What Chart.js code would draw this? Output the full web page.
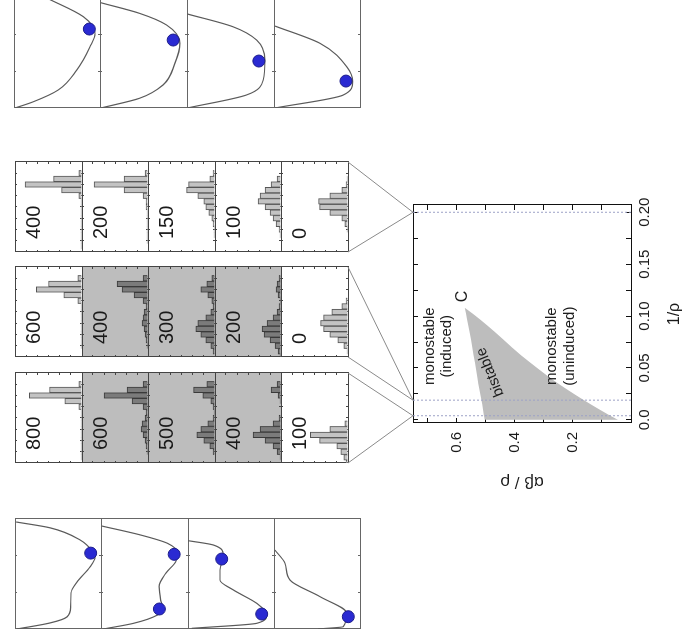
<!DOCTYPE html>
<html>
<head>
<meta charset="utf-8">
<script src="https://cdn.jsdelivr.net/npm/chart.js@4.4.1/dist/chart.umd.min.js"></script>
<style>
  html, body { margin: 0; padding: 0; background: #fff; overflow: hidden; }
  /* the figure is laid out upright, then turned a quarter to the left */
  #fig { position: absolute; left: 0; top: 0; width: 638px; height: 686px; overflow: hidden;
         transform-origin: 0 0; transform: translateY(638px) rotate(-90deg); }
  #fig canvas { position: absolute; }
</style>
</head>
<body>
<div id="fig"></div>
<script>
const FONT = '"Liberation Sans", Arial, Helvetica, sans-serif';

// ---- phase diagram ----
const bistX     = [0, 0.01, 0.02, 0.03, 0.04, 0.055, 0.07, 0.085, 0.097, 0.108];
const bistUpper = [0.503, 0.509, 0.515, 0.522, 0.528, 0.537, 0.546, 0.556, 0.564, 0.572];
const bistLower = [0.045, 0.108, 0.168, 0.224, 0.276, 0.346, 0.410, 0.470, 0.520, 0.572];
const sampleRhoInv = [0.004, 0.019, 0.2];
const rhoInvRange = [-0.003, 0.207];
const ratioRange = [0, 0.75];

// ---- histograms: one column per sampled 1/rho, five rows each ----
const histBins = [0, 1, 2, 3, 4, 5, 6, 7, 8, 9, 10, 11, 12, 13, 14, 15];
const noiseC = [800, 600, 500, 400, 100];
const noiseB = [600, 400, 300, 200, 0];
const noiseA = [400, 200, 150, 100, 0];
const bistableC = [false, true, true, true, false];
const bistableB = [false, true, true, true, false];
const bistableA = [false, false, false, false, false];
const countsC = [
  [0, 1, 1, 1, 1, 1, 1, 1, 1, 1, 3, 17, 52, 32, 3, 0],
  [0, 0, 1, 2, 3, 5, 7, 6, 3, 2, 5, 16, 44, 21, 5, 0],
  [0, 0, 2, 5, 11, 18, 14, 7, 2, 1, 2, 4, 12, 21, 8, 0],
  [0, 1, 4, 8, 16, 28, 21, 8, 2, 0, 0, 1, 3, 10, 4, 0],
  [2, 4, 7, 11, 28, 37, 18, 3, 0, 0, 0, 0, 0, 0, 0, 0]
];
const countsB = [
  [0, 0, 1, 1, 1, 1, 1, 1, 1, 1, 4, 18, 45, 33, 4, 0],
  [0, 0, 1, 2, 3, 4, 6, 5, 4, 2, 5, 14, 26, 31, 5, 0],
  [0, 2, 4, 9, 14, 19, 17, 9, 4, 2, 3, 7, 14, 8, 3, 0],
  [1, 3, 6, 11, 17, 19, 14, 8, 4, 2, 1, 3, 5, 4, 2, 0],
  [0, 1, 4, 10, 18, 24, 27, 24, 16, 6, 2, 0, 0, 0, 0, 0]
];
const countsA = [
  [0, 1, 1, 1, 1, 1, 1, 1, 1, 1, 3, 20, 56, 28, 3, 0],
  [0, 0, 1, 1, 1, 1, 1, 1, 2, 2, 5, 24, 54, 24, 3, 0],
  [0, 0, 0, 1, 1, 2, 3, 6, 9, 11, 17, 28, 26, 5, 2, 0],
  [0, 0, 0, 1, 2, 5, 8, 11, 16, 23, 21, 16, 10, 4, 0, 0],
  [0, 0, 0, 0, 1, 3, 6, 18, 28, 29, 18, 6, 2, 1, 0, 0]
];

// ---- landscape curves (bistable column, then monostable column) ----
const bistCurveU = [
  [0, 0.055, 0.11, 0.2, 0.327, 0.427, 0.564, 0.655, 0.7, 0.81, 0.92, 0.973],
  [0, 0.052, 0.127, 0.203, 0.264, 0.385, 0.506, 0.612, 0.688, 0.779, 0.855, 0.936],
  [0.006, 0.052, 0.127, 0.233, 0.355, 0.445, 0.536, 0.673, 0.764, 0.803],
  [0, 0.021, 0.143, 0.294, 0.445, 0.597, 0.718]
];
const bistCurveV = [
  [0.977, 0.593, 0.395, 0.353, 0.349, 0.28, 0.128, 0.07, 0.093, 0.244, 0.593, 0.988],
  [0.973, 0.624, 0.352, 0.294, 0.314, 0.333, 0.256, 0.14, 0.12, 0.236, 0.547, 0.99],
  [0.957, 0.2, 0.085, 0.2, 0.473, 0.628, 0.628, 0.59, 0.706, 0.998],
  [0.488, 0.194, 0.155, 0.465, 0.814, 0.872, 0.99]
];
const bistDotU = [[0.69], [0.182, 0.679], [0.136, 0.636], [0.112]];
const bistDotV = [[0.12], [0.329, 0.159], [0.143, 0.608], [0.136]];

const monoCurveU = [
  [0, 0.057, 0.164, 0.345, 0.557, 0.679, 0.83, 1.0],
  [0, 0.088, 0.209, 0.406, 0.588, 0.755, 0.861, 0.957],
  [0, 0.118, 0.255, 0.436, 0.618, 0.739, 0.855],
  [0, 0.118, 0.239, 0.375, 0.588, 0.745]
];
const monoCurveV = [
  [0.988, 0.775, 0.485, 0.271, 0.116, 0.058, 0.194, 0.62],
  [0.99, 0.547, 0.276, 0.14, 0.081, 0.236, 0.547, 0.99],
  [0.997, 0.318, 0.124, 0.105, 0.2, 0.473, 0.997],
  [0.988, 0.194, 0.085, 0.155, 0.465, 0.988]
];
const monoDotU = [[0.718], [0.618], [0.427], [0.245]];
const monoDotV = [[0.124], [0.159], [0.174], [0.163]];

// ---- layout (upright figure coordinates) ----
const fig = document.getElementById('fig');
const HIST_LEFT = [175, 281, 386];
const HIST_W = 90;
const HIST_EDGES = [15, 82, 148, 215, 281, 348];
const CURVE_W = 110;
const BIST_LEFT = 9, BIST_EDGES = [15, 101, 188, 274, 360];
const MONO_LEFT = 530, MONO_EDGES = [14, 100, 187, 274, 360];
const MAIN_BOX = { left: 140, top: 340, width: 360, height: 346 };

const LIGHT_BAR = '#c3c3c3', DARK_BAR = '#7b7b7b', SHADE = '#bdbdbd';

function makeCanvas(x, y, w, h) {
  const c = document.createElement('canvas');
  c.width = w; c.height = h;
  c.style.left = x + 'px'; c.style.top = y + 'px';
  c.style.width = w + 'px'; c.style.height = h + 'px';
  fig.appendChild(c);
  return c;
}

const baseOptions = {
  responsive: false,
  animation: false,
  devicePixelRatio: 1,
  events: [],
  layout: { autoPadding: false, padding: { left: 0, top: 0, right: 1, bottom: 1 } }
};

function frameAxis(position, min, max, step, tick, color) {
  return {
    type: 'linear', position, min, max, offset: false,
    ticks: { display: false, stepSize: step || undefined, includeBounds: false },
    grid: { drawOnChartArea: false, drawTicks: !!step, tickLength: -tick, color, offset: false },
    border: { color, width: 1 },
    afterFit(s) { if (s.isHorizontal()) s.height = 0; else s.width = 0; }
  };
}

const panelDecor = {
  id: 'panelDecor',
  beforeDraw(chart, args, opts) {
    if (!opts.bg) return;
    const a = chart.chartArea, ctx = chart.ctx;
    ctx.save();
    ctx.fillStyle = opts.bg;
    ctx.fillRect(a.left, a.top, a.right - a.left, a.bottom - a.top);
    ctx.restore();
  },
  afterDraw(chart, args, opts) {
    if (opts.text === undefined || opts.text === null) return;
    const a = chart.chartArea, ctx = chart.ctx;
    ctx.save();
    ctx.font = '20px ' + FONT;
    ctx.fillStyle = '#1a1a1a';
    ctx.textAlign = 'left';
    ctx.textBaseline = 'middle';
    ctx.fillText(String(opts.text), a.left + 13, a.top + 19);
    ctx.restore();
  }
};

// ---- histogram panels ----
const histGroups = [
  { noise: noiseC, bist: bistableC, counts: countsC },
  { noise: noiseB, bist: bistableB, counts: countsB },
  { noise: noiseA, bist: bistableA, counts: countsA }
];

histGroups.forEach((g, gi) => {
  g.counts.forEach((counts, pi) => {
    const top = HIST_EDGES[pi];
    const h = HIST_EDGES[pi + 1] - top;
    const dark = g.bist[pi];
    const cv = makeCanvas(HIST_LEFT[gi], top, HIST_W + 1, h + 1);
    new Chart(cv, {
      type: 'bar',
      data: {
        datasets: [{
          data: counts.map((c, k) => ({ x: histBins[k], y: c })),
          backgroundColor: dark ? DARK_BAR : LIGHT_BAR,
          borderColor: dark ? '#3a3a3a' : '#555',
          borderWidth: 1,
          categoryPercentage: 1,
          barPercentage: 1
        }]
      },
      options: Object.assign({}, baseOptions, {
        plugins: {
          legend: { display: false }, tooltip: { enabled: false },
          panelDecor: { text: g.noise[pi], bg: dark ? SHADE : null }
        },
        scales: {
          x: frameAxis('bottom', 0, 16, 2, 2, '#444'),
          x2: frameAxis('top', 0, 16, 2, 2, '#444'),
          y: frameAxis('left', 0, 66, 11, 2, '#444'),
          y2: frameAxis('right', 0, 66, 11, 2, '#444')
        }
      }),
      plugins: [panelDecor]
    });
  });
});

// ---- landscape panels ----
function curvePanel(left, top, h, us, vs, du, dv) {
  const cv = makeCanvas(left, top, CURVE_W + 1, h + 1);
  new Chart(cv, {
    type: 'line',
    data: {
      datasets: [
        {
          data: us.map((u, i) => ({ x: u, y: vs[i] })),
          borderColor: '#5a5a5a', borderWidth: 1.2, pointRadius: 0,
          cubicInterpolationMode: 'monotone', fill: false, order: 2
        },
        {
          data: du.map((u, i) => ({ x: u, y: dv[i] })),
          showLine: false, pointRadius: 6,
          pointBackgroundColor: '#2a2ad2', pointBorderColor: '#1c1c8a', pointBorderWidth: 1,
          order: 1
        }
      ]
    },
    options: Object.assign({}, baseOptions, {
      plugins: { legend: { display: false }, tooltip: { enabled: false } },
      scales: {
        x: frameAxis('bottom', 0, 1, 1 / 3, 2, '#666'),
        x2: frameAxis('top', 0, 1, 1 / 3, 2, '#666'),
        y: frameAxis('left', 0, 1, 0, 0, '#666'),
        y2: frameAxis('right', 0, 1, 0, 0, '#666')
      }
    })
  });
}

bistCurveU.forEach((us, i) => {
  curvePanel(BIST_LEFT, BIST_EDGES[i], BIST_EDGES[i + 1] - BIST_EDGES[i],
    us, bistCurveV[i], bistDotU[i], bistDotV[i]);
});
monoCurveU.forEach((us, i) => {
  curvePanel(MONO_LEFT, MONO_EDGES[i], MONO_EDGES[i + 1] - MONO_EDGES[i],
    us, monoCurveV[i], monoDotU[i], monoDotV[i]);
});

// ---- phase diagram with region labels and connectors ----
const phaseDecor = {
  id: 'phaseDecor',
  afterDraw(chart) {
    const ctx = chart.ctx, xs = chart.scales.x, ys = chart.scales.y, a = chart.chartArea;
    ctx.save();
    // connectors from each histogram column to its dotted line
    ctx.strokeStyle = '#8a8a8a';
    ctx.lineWidth = 1;
    const fromY = HIST_EDGES[HIST_EDGES.length - 1] - MAIN_BOX.top;
    sampleRhoInv.forEach((v, i) => {
      const tx = xs.getPixelForValue(v);
      const l = HIST_LEFT[i] - MAIN_BOX.left, r = l + HIST_W;
      ctx.beginPath();
      ctx.moveTo(l, fromY); ctx.lineTo(tx, a.top);
      ctx.moveTo(r, fromY); ctx.lineTo(tx, a.top);
      ctx.stroke();
    });
    ctx.fillStyle = '#1a1a1a';
    ctx.textAlign = 'center';
    ctx.textBaseline = 'middle';
    ctx.font = '15px ' + FONT;
    const put = (t, x, y) => ctx.fillText(t, xs.getPixelForValue(x), ys.getPixelForValue(y));
    put('monostable', 0.071, 0.693);
    put('(induced)', 0.071, 0.634);
    put('monostable', 0.071, 0.272);
    put('(uninduced)', 0.071, 0.21);
    ctx.font = '16px ' + FONT;
    put('C', 0.119, 0.58);
    ctx.font = '15px ' + FONT;
    ctx.translate(xs.getPixelForValue(0.046), ys.getPixelForValue(0.484));
    ctx.rotate(-22 * Math.PI / 180);
    ctx.fillText('bistable', 0, 0);
    ctx.restore();
  }
};

function fmtRhoInv(v) {
  const k = Math.round(v / 0.05);
  if (Math.abs(v - k * 0.05) > 1e-6) return '';
  return k === 0 ? '0.0' : v.toFixed(2);
}
function fmtRatio(v) {
  const k = Math.round(v * 10);
  return (k > 0 && k % 2 === 0) ? v.toFixed(1) : '';
}

const tickFont = { family: FONT, size: 15 };
const mainCanvas = makeCanvas(MAIN_BOX.left, MAIN_BOX.top, MAIN_BOX.width, MAIN_BOX.height);
new Chart(mainCanvas, {
  type: 'line',
  data: {
    datasets: [
      {
        data: bistX.map((x, i) => ({ x, y: bistUpper[i] })),
        borderWidth: 0, borderColor: SHADE, backgroundColor: SHADE,
        pointRadius: 0, cubicInterpolationMode: 'monotone', fill: '+1', order: 3
      },
      {
        data: bistX.map((x, i) => ({ x, y: bistLower[i] })),
        borderWidth: 0, borderColor: SHADE, backgroundColor: SHADE,
        pointRadius: 0, cubicInterpolationMode: 'monotone', fill: false, order: 3
      },
      ...sampleRhoInv.map(v => ({
        data: [{ x: v, y: ratioRange[0] }, { x: v, y: ratioRange[1] }],
        borderColor: '#9da2c6', borderWidth: 1, borderDash: [2, 2],
        pointRadius: 0, fill: false, order: 1
      }))
    ]
  },
  options: Object.assign({}, baseOptions, {
    layout: { autoPadding: false, padding: { left: 0, top: 73, right: 67, bottom: 0 } },
    plugins: { legend: { display: false }, tooltip: { enabled: false } },
    scales: {
      x: {
        type: 'linear', position: 'bottom', min: rhoInvRange[0], max: rhoInvRange[1],
        ticks: { stepSize: 0.025, includeBounds: false, padding: 10, color: '#1a1a1a',
                 font: tickFont, maxRotation: 0, autoSkip: false, callback: fmtRhoInv },
        grid: { drawOnChartArea: false, tickLength: -5, color: '#111' },
        border: { color: '#111', width: 1 },
        title: { display: true, text: '1/ρ', color: '#1a1a1a',
                 font: { family: FONT, size: 16 }, padding: { top: 0, bottom: 2 } },
        afterFit(s) { s.height = 55; }
      },
      x2: {
        type: 'linear', position: 'top', min: rhoInvRange[0], max: rhoInvRange[1],
        ticks: { display: false, stepSize: 0.025, includeBounds: false },
        grid: { drawOnChartArea: false, tickLength: -5, color: '#111' },
        border: { color: '#111', width: 1 },
        afterFit(s) { s.height = 0; }
      },
      y: {
        type: 'linear', position: 'left', min: ratioRange[0], max: ratioRange[1],
        ticks: { stepSize: 0.1, includeBounds: false, padding: 14, color: '#1a1a1a',
                 font: tickFont, autoSkip: false, callback: fmtRatio },
        grid: { drawOnChartArea: false, tickLength: -5, color: '#111' },
        border: { color: '#111', width: 1 },
        title: { display: true, text: 'αβ / ρ', color: '#1a1a1a',
                 font: { family: FONT, size: 17 }, padding: { top: 6, bottom: 0 } },
        afterFit(s) { s.width = 75; }
      },
      y2: {
        type: 'linear', position: 'right', min: ratioRange[0], max: ratioRange[1],
        ticks: { display: false, stepSize: 0.1, includeBounds: false },
        grid: { drawOnChartArea: false, tickLength: -5, color: '#111' },
        border: { color: '#111', width: 1 },
        afterFit(s) { s.width = 0; }
      }
    }
  }),
  plugins: [phaseDecor]
});
</script>
</body>
</html>
